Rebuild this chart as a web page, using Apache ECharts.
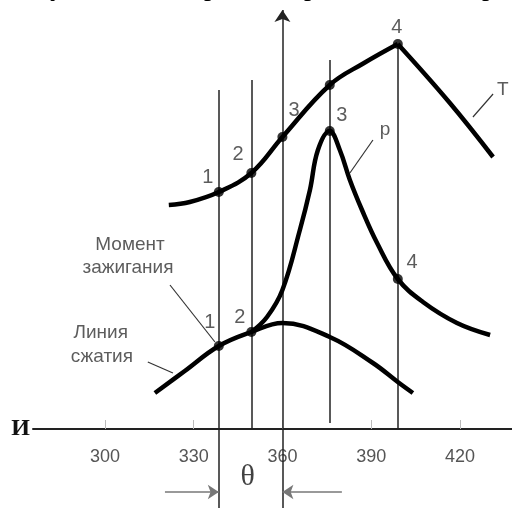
<!DOCTYPE html>
<html>
<head>
<meta charset="utf-8">
<script src="https://cdn.jsdelivr.net/npm/echarts@6/dist/echarts.min.js"></script>
<style>
  html, body { margin: 0; padding: 0; background: #fff; }
  #chart { width: 512px; height: 508px; }
</style>
</head>
<body>
<div id="chart"></div>
<script>
// crank angle ticks, degrees
const ticks = [300, 330, 360, 390, 420];

// curves: [angle, height] (height in arbitrary units above the axis)
const tRise = [[321.6, 224], [328.7, 227], [338.5, 237], [349.5, 256], [360, 292], [376, 344], [387.6, 366], [399, 385]];
const tFall = [[399, 385], [416.6, 326], [431.2, 272]];
const pCurve = [[349.5, 97], [354.8, 112], [360, 139], [365.9, 199], [369.3, 239], [372, 279], [376, 298],
  [379.4, 279], [382.8, 249], [386.9, 219], [392, 186], [399, 150], [407.5, 127], [419, 106], [430.2, 94]];
const compression = [[316.9, 36], [327, 58], [338.5, 83], [349.5, 97], [360, 106], [376, 92], [390.6, 66], [399, 47], [404.1, 36]];

// marked points
const tDots = [[338.5, 237], [349.5, 256], [360, 292], [376, 344], [399, 385]];
const pDots = [[338.5, 83], [349.5, 97], [376, 298], [399, 150]];

// vertical lines: [angle, top, bottom]
const vLines = [[338.5, 339, -79], [349.5, 349, 0], [376, 369, 6], [399, 385, 0]];
const tdcArrow = [360, -79, 419];

// leader lines: [x1, y1, x2, y2]
const leaders = [[424.4, 312, 431.2, 335], [382.8, 256, 390.6, 289], [322.0, 144, 337.2, 87], [314.5, 67, 323.0, 56]];

// theta arrows: [from, to, height]
const thetaArrows = [[320.3, 338.5, -63], [380.1, 360, -63]];

// point numbers
const numLabels = [[334.8, 252, '1'], [345.0, 275, '2'], [363.9, 319, '3'], [380.1, 314, '3'], [398.7, 402, '4'],
  [335.5, 107, '1'], [345.6, 112, '2'], [403.8, 167, '4']];
// other captions
const textLabels = [[434.5, 339, 'Т'], [394.7, 299, 'р'], [308.5, 184, 'Момент'], [307.8, 161, 'зажигания'],
  [298.6, 96, 'Линия'], [299.0, 72, 'сжатия']];
const thetaLabel = [[348.3, -48, 'θ']];

const chart = echarts.init(document.getElementById('chart'), null, { renderer: 'canvas' });

const curveStyle = { color: '#000', width: 4.5 };
function curve(data) {
  return {
    type: 'line', data: data, smooth: 0.4, showSymbol: false, symbol: 'none',
    lineStyle: curveStyle, silent: true, z: 5
  };
}

const option = {
  animation: false,
  backgroundColor: '#fff',
  // axis sits 79px above the bottom edge; marks below it are drawn unclipped
  grid: { left: 33, right: 0, top: 0, bottom: 79, outerBoundsMode: 'none' },
  xAxis: {
    type: 'value',
    min: 275.7,
    max: 437.6,
    name: 'И',
    nameLocation: 'start',
    nameGap: 3,
    nameTextStyle: { fontFamily: 'Liberation Serif', fontWeight: 'bold', fontSize: 24, color: '#111', verticalAlign: 'middle' },
    axisLine: { onZero: false, lineStyle: { color: '#222', width: 2 } },
    axisTick: { customValues: ticks, inside: true, length: 9, lineStyle: { color: '#bbb', width: 1 } },
    axisLabel: { customValues: ticks, color: '#555', fontSize: 18, fontFamily: 'Liberation Sans', margin: 19 },
    splitLine: { show: false }
  },
  yAxis: { type: 'value', min: 0, max: 429, show: false },
  graphic: [
    { type: 'text', left: 50, top: -26, style: { text: 'у', font: '28px "Liberation Serif"', fill: '#000' } },
    { type: 'text', left: 204, top: -26, style: { text: 'р', font: '28px "Liberation Serif"', fill: '#000' } },
    { type: 'text', left: 304, top: -26, style: { text: 'р', font: '28px "Liberation Serif"', fill: '#000' } },
    { type: 'text', left: 482, top: -26, style: { text: 'р', font: '28px "Liberation Serif"', fill: '#000' } }
  ],
  series: [
    {
      type: 'lines', coordinateSystem: 'cartesian2d', polyline: false, silent: true, clip: false,
      symbol: 'none', lineStyle: { color: '#222', width: 1.5, opacity: 1 },
      data: vLines.map(v => ({ coords: [[v[0], v[1]], [v[0], v[2]]] }))
    },
    {
      type: 'lines', coordinateSystem: 'cartesian2d', silent: true, clip: false,
      symbol: ['none', 'arrow'], symbolSize: 12,
      lineStyle: { color: '#222', width: 1.5, opacity: 1 },
      data: [{ coords: [[tdcArrow[0], tdcArrow[1]], [tdcArrow[0], tdcArrow[2]]] }]
    },
    {
      type: 'lines', coordinateSystem: 'cartesian2d', silent: true, clip: false,
      symbol: ['none', 'arrow'], symbolSize: 11,
      lineStyle: { color: '#777', width: 1.5, opacity: 1 },
      itemStyle: { color: '#111' },
      data: thetaArrows.map(a => ({ coords: [[a[0], a[2]], [a[1], a[2]]] }))
    },
    {
      type: 'lines', coordinateSystem: 'cartesian2d', silent: true,
      symbol: 'none', lineStyle: { color: '#333', width: 1.2, opacity: 1 },
      data: leaders.map(l => ({ coords: [[l[0], l[1]], [l[2], l[3]]] }))
    },
    curve(compression),
    curve(pCurve),
    curve(tRise),
    curve(tFall),
    {
      type: 'scatter', data: tDots.concat(pDots), symbolSize: 10, silent: true,
      itemStyle: { color: '#000' }, z: 6
    },
    {
      type: 'scatter', data: numLabels, symbolSize: 0, silent: true,
      label: {
        show: true, position: 'inside', formatter: p => p.value[2],
        color: '#333', fontSize: 20, fontFamily: 'Liberation Sans'
      }
    },
    {
      type: 'scatter', data: textLabels, symbolSize: 0, silent: true,
      label: {
        show: true, position: 'inside', formatter: p => p.value[2],
        color: '#333', fontSize: 19, fontFamily: 'Liberation Sans'
      }
    },
    {
      type: 'scatter', data: thetaLabel, symbolSize: 0, silent: true, clip: false,
      label: {
        show: true, position: 'inside', formatter: p => p.value[2],
        color: '#111', fontSize: 30, fontFamily: 'Liberation Serif'
      }
    }
  ]
};

chart.setOption(option);
</script>
</body>
</html>
